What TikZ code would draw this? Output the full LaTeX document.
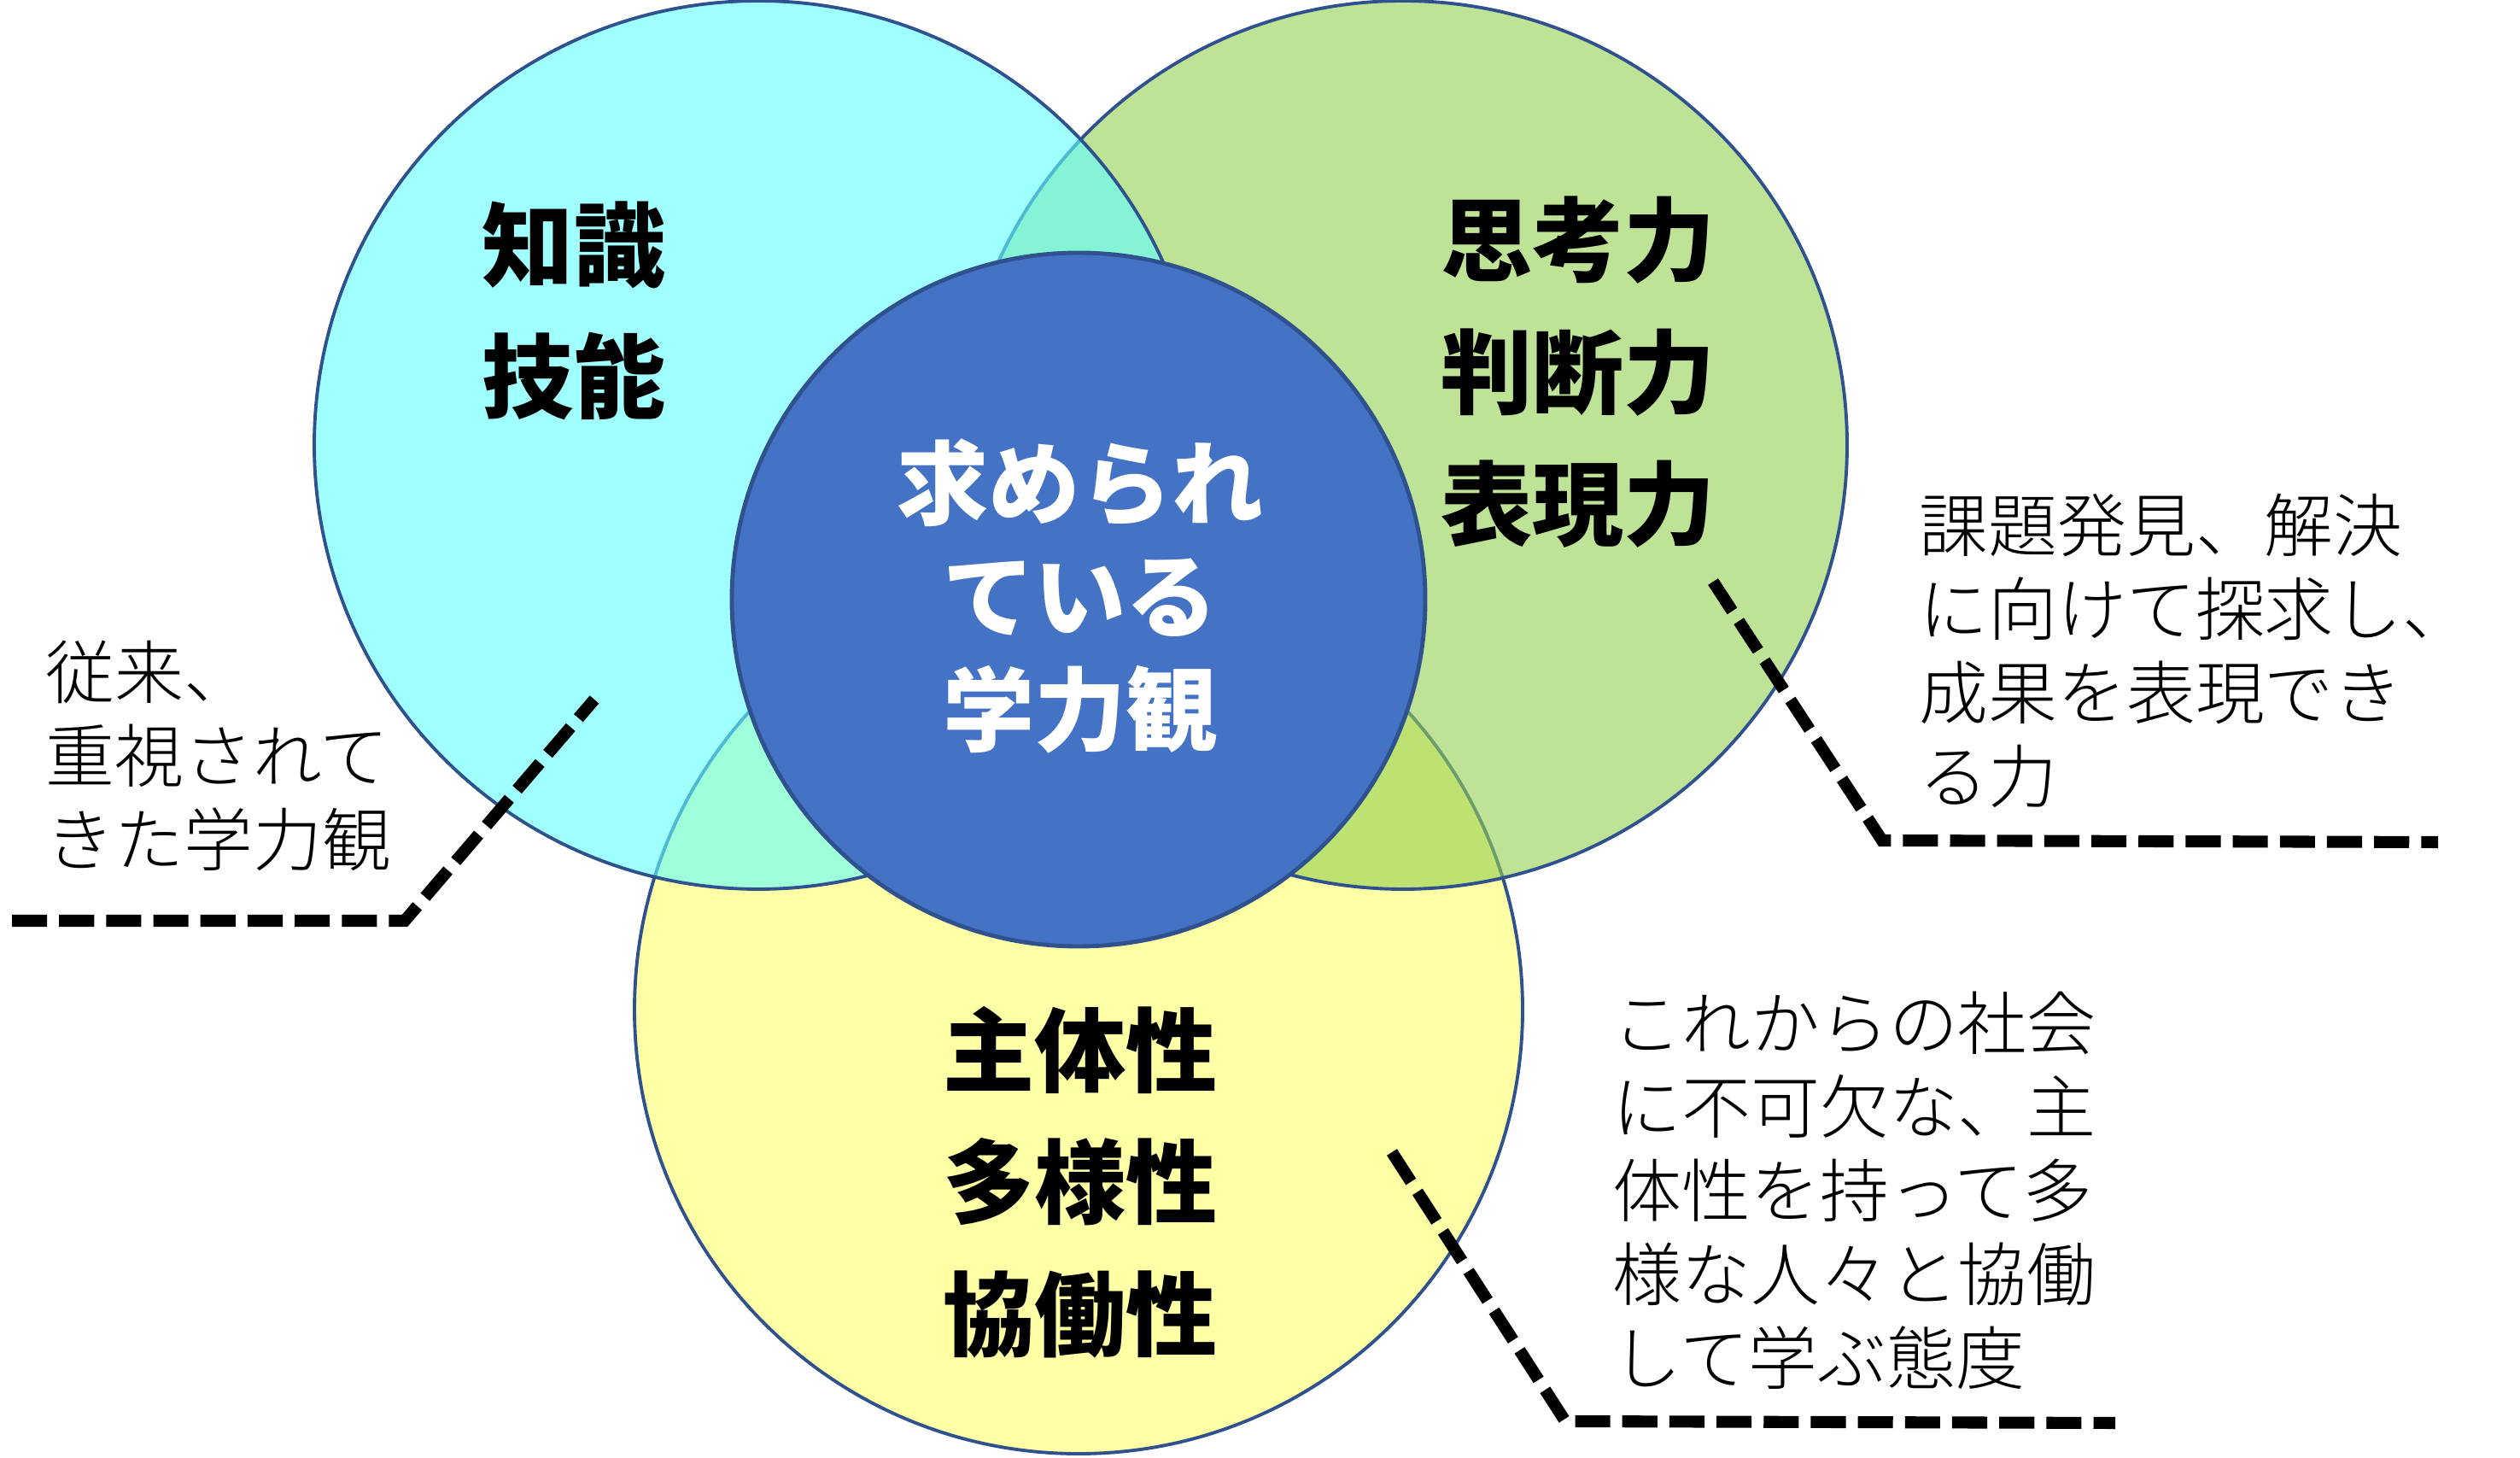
\documentclass[tikz,border=0pt]{standalone}
\usepackage{fontspec}
\setmainfont{Noto Sans CJK JP}
\newfontfamily\notefont{Noto Sans CJK JP}[UprightFont=* Light]
\usetikzlibrary{positioning}
\definecolor{vCyan}{HTML}{61FFFF}
\definecolor{vGreen}{HTML}{92D050}
\definecolor{vYellow}{HTML}{FFFFA6}
\definecolor{vCore}{HTML}{4472C4}
\definecolor{vEdge}{HTML}{2F528F}
\tikzset{
  venn/.style={draw=vEdge, line width=1.1pt},
  core/.style={draw=vEdge, line width=1.4pt, fill=vCore},
  headtxt/.style={align=center, inner sep=0pt,
                  font=\fontsize{30.5}{44}\selectfont\bfseries},
  notetxt/.style={align=left, inner sep=0pt,
                  font=\fontsize{23}{27.9}\selectfont\notefont},
  leader/.style={line width=4pt, dash pattern=on 11.7pt off 4pt},
}

\begin{document}
\begin{tikzpicture}
  \useasboundingbox (0,0) rectangle (29.51,17.06);
  % Circles
  \draw[venn, fill=vYellow] (12.63,5.24) circle (5.20);
  \draw[venn, fill=vGreen, fill opacity=0.6] (16.43,11.85) circle (5.20);
  \draw[venn, fill=vCyan, fill opacity=0.6] (8.88,11.85) circle (5.20);
  \draw[core] (12.63,10.04) circle (4.06);
  % Labels
  \node[headtxt] (know) at (6.72,13.42) {知識\\技能};
  \node[headtxt] (think) at (18.48,12.70) {思考力\\判断力\\表現力};
  \node[headtxt, text=white, font=\fontsize{30.5}{37.8}\selectfont\bfseries]
    (core) at (12.65,10.08) {求められ\\ている\\学力観};
  \node[headtxt] (subj) at (12.65,3.22) {主体性\\多様性\\協働性};
  % Notes
  \node[notetxt, anchor=west] (noteL) at (0.53,8.21) {従来、\\重視されて\\きた学力観};
  \node[notetxt, anchor=west] (noteR) at (22.47,9.44) {課題発見、解決\\に向けて探求し、\\成果を表現でき\\る力};
  \node[notetxt, anchor=west] (noteB) at (18.88,3.12) {これからの社会\\に不可欠な、主\\体性を持って多\\様な人々と協働\\して学ぶ態度};
  % Leaders
  \coordinate (lA) at (0.14,6.28);
  \coordinate (lB) at (4.74,6.28);
  \coordinate (lC) at (6.96,8.87);
  \coordinate (rA) at (20.06,10.25);
  \coordinate (rB) at (22.04,7.22);
  \coordinate (rC) at (28.55,7.20);
  \coordinate (bA) at (16.30,3.57);
  \coordinate (bB) at (18.33,0.42);
  \coordinate (bC) at (24.77,0.40);
  \draw[leader] (lA) -- (lB) -- (lC);
  \draw[leader] (rA) -- (rB) -- (rC);
  \draw[leader] (bA) -- (bB) -- (bC);
\end{tikzpicture}
\end{document}
